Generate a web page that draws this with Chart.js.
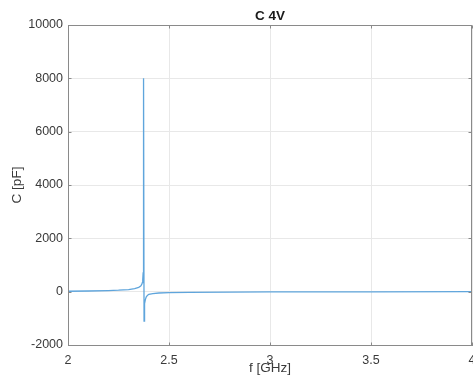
<!DOCTYPE html>
<html>
<head>
<meta charset="utf-8">
<script src="https://cdn.jsdelivr.net/npm/chart.js@4/dist/chart.umd.min.js"></script>
<style>
  html, body { margin: 0; padding: 0; background: #fff; }
  #wrap { width: 473px; height: 387px; position: relative; }
</style>
</head>
<body>
<div id="wrap"><canvas id="capChart"></canvas></div>
<script>
// Frequency sweep [GHz] and measured capacitance [pF] at 4 V bias
const freqGHz = [
    2.00, 2.10, 2.20, 2.25, 2.30, 2.33, 2.35, 2.36, 2.365, 2.368,
    2.370, 2.372, 2.373, 2.374, 2.375, 2.3765, 2.378, 2.380, 2.383, 2.387,
    2.393, 2.400, 2.420, 2.450, 2.500, 2.600, 2.800, 3.000, 3.500, 4.000
];
const capPF = [
    15, 25, 40, 55, 80, 115, 160, 210, 270, 340,
    450, 700, 1200, 3000, 8000, -1100, -700, -450, -300, -200,
    -140, -100, -70, -50, -35, -25, -15, -10, -5, 0
];

const xTickValues = [2, 2.5, 3, 3.5, 4];
const xTickLabels = ['2', '2.5', '3', '3.5', '4'];
const yTickValues = [-2000, 0, 2000, 4000, 6000, 8000, 10000];
const yTickLabels = ['-2000', '0', '2000', '4000', '6000', '8000', '10000'];

const chartTitle = 'C 4V';
const xTitle = 'f [GHz]';
const yTitle = 'C [pF]';

const FONT = "'Liberation Sans', Arial, sans-serif";
const TEXT = '#3a3a3a';
const GRID = '#e8e8e8';
const AXIS = '#8a8a8a';
const TICK_LEN = 3;

// Title centered over the plot area, the closed axes box and inward tick marks
const boxAndTitle = {
    id: 'boxAndTitle',
    afterDatasetsDraw(chart) {
        const { ctx, chartArea: a, scales } = chart;
        const l = Math.round(a.left) + 0.5, r = Math.round(a.right) - 0.5;
        const t = Math.round(a.top) + 0.5, b = Math.round(a.bottom) + 0.5;
        ctx.save();
        ctx.strokeStyle = AXIS;
        ctx.lineWidth = 1;
        ctx.strokeRect(l, t, r - l, b - t);
        ctx.beginPath();
        xTickValues.forEach(v => {
            const px = Math.round(scales.x.getPixelForValue(v)) + 0.5;
            ctx.moveTo(px, b); ctx.lineTo(px, b - TICK_LEN);
            ctx.moveTo(px, t); ctx.lineTo(px, t + TICK_LEN);
        });
        yTickValues.forEach(v => {
            const py = Math.round(scales.y.getPixelForValue(v)) + 0.5;
            ctx.moveTo(l, py); ctx.lineTo(l + TICK_LEN, py);
            ctx.moveTo(r, py); ctx.lineTo(r - TICK_LEN, py);
        });
        ctx.stroke();
        ctx.fillStyle = '#1a1a1a';
        ctx.font = `bold 13.5px ${FONT}`;
        ctx.textAlign = 'center';
        ctx.textBaseline = 'middle';
        ctx.fillText(chartTitle, (a.left + a.right) / 2, 16);
        ctx.restore();
    }
};

const ctx = document.getElementById('capChart').getContext('2d');
new Chart(ctx, {
    type: 'line',
    data: {
        datasets: [{
            data: freqGHz.map((f, i) => ({ x: f, y: capPF[i] })),
            borderColor: 'rgb(95, 165, 220)',
            borderWidth: 1.3,
            pointRadius: 0,
            tension: 0,
            fill: false
        }]
    },
    options: {
        responsive: true,
        maintainAspectRatio: false,
        animation: false,
        layout: { padding: { top: 25, right: 1, left: 0, bottom: 0 } },
        plugins: {
            legend: { display: false },
            tooltip: { enabled: false }
        },
        scales: {
            x: {
                type: 'linear',
                min: 2,
                max: 4,
                afterBuildTicks: (scale) => {
                    scale.ticks = xTickValues.map(v => ({ value: v }));
                },
                afterFit: (scale) => {
                    scale.height = 42;
                    scale.paddingLeft = 0;
                    scale.paddingRight = 0;
                },
                ticks: {
                    color: TEXT,
                    font: { family: FONT, size: 12.5 },
                    padding: 8,
                    maxRotation: 0,
                    callback: (v) => xTickLabels[xTickValues.indexOf(v)]
                },
                grid: { color: GRID, drawTicks: false },
                border: { color: AXIS },
                title: {
                    display: true,
                    text: xTitle,
                    color: TEXT,
                    font: { family: FONT, size: 13.5 },
                    padding: { top: 0, bottom: 11 }
                }
            },
            y: {
                type: 'linear',
                min: -2000,
                max: 10000,
                afterBuildTicks: (scale) => {
                    scale.ticks = yTickValues.map(v => ({ value: v }));
                },
                afterFit: (scale) => {
                    scale.width = 68;
                    scale.paddingTop = 0;
                    scale.paddingBottom = 0;
                },
                ticks: {
                    color: TEXT,
                    font: { family: FONT, size: 12.5 },
                    padding: 5,
                    callback: (v) => yTickLabels[yTickValues.indexOf(v)]
                },
                grid: { color: GRID, drawTicks: false },
                border: { color: AXIS },
                title: {
                    display: true,
                    text: yTitle,
                    color: TEXT,
                    font: { family: FONT, size: 13.5 },
                    padding: { top: 9, bottom: 0 }
                }
            }
        }
    },
    plugins: [boxAndTitle]
});
</script>
</body>
</html>
